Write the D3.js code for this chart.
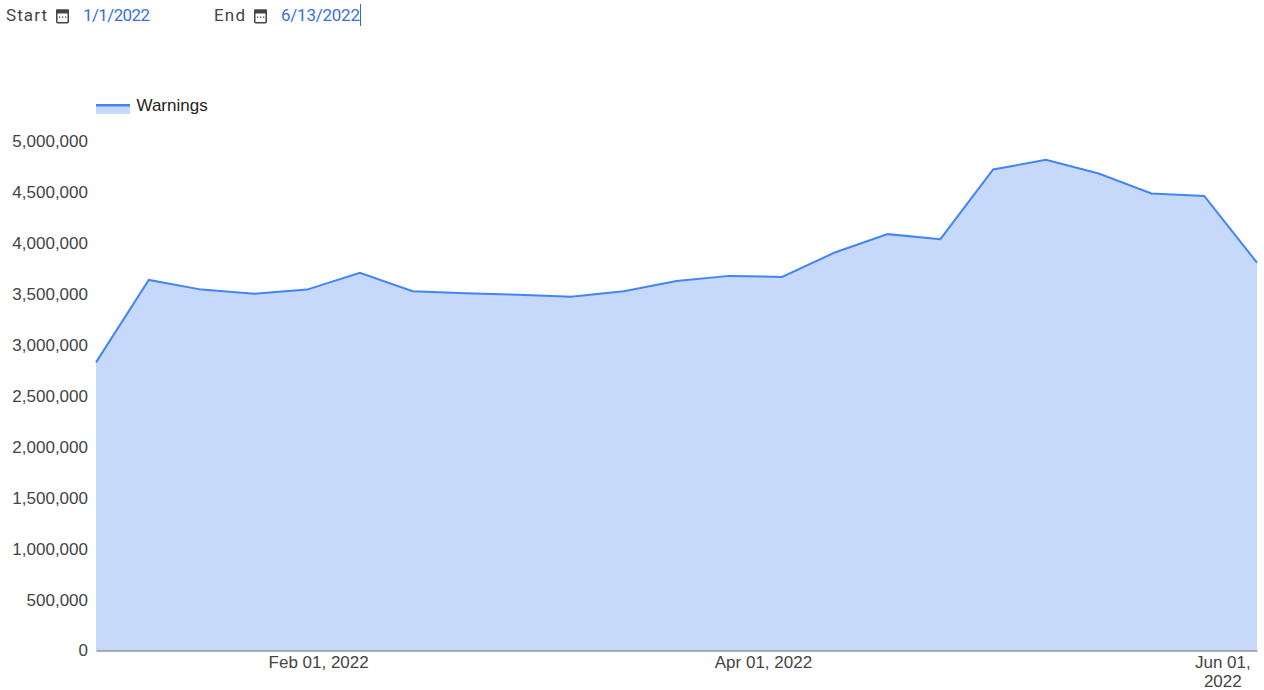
<!DOCTYPE html>
<html>
<head>
<meta charset="utf-8">
<script src="https://cdn.jsdelivr.net/npm/d3@7"></script>
<style>
html, body { margin: 0; padding: 0; background: #fff; overflow: hidden; }
svg { display: block; }
.chart-text { font-family: "Liberation Sans", Arial, sans-serif; font-size: 17px; fill: #444; }
.control-text { font-family: Roboto, "Open Sans", sans-serif; font-size: 17px; }
</style>
</head>
<body>
<div id="chart"></div>
<script>
// weekly warnings
const weeks = ["2022-01-03","2022-01-10","2022-01-17","2022-01-24","2022-01-31","2022-02-07","2022-02-14","2022-02-21",
    "2022-02-28","2022-03-07","2022-03-14","2022-03-21","2022-03-28","2022-04-04","2022-04-11","2022-04-18",
    "2022-04-25","2022-05-02","2022-05-09","2022-05-16","2022-05-23","2022-05-30","2022-06-06"];
const warnings = [2830000,3640000,3545000,3505000,3545000,3710000,3530000,3510000,
    3495000,3475000,3530000,3630000,3680000,3670000,3910000,4090000,
    4040000,4725000,4820000,4685000,4490000,4465000,3810000];
const yTicks = [0,500000,1000000,1500000,2000000,2500000,3000000,3500000,4000000,4500000,5000000];
const xTicks = ["2022-02-01","2022-04-01","2022-06-01"];
const seriesName = "Warnings";

var width = 1264, height = 690;
var margin = {top: 141.5, right: 7, bottom: 39.5, left: 96};
var parseDay = d3.timeParse("%Y-%m-%d");
var data = weeks.map(function(d, i) { return {date: parseDay(d), value: warnings[i]}; });

var x = d3.scaleTime()
    .domain(d3.extent(data, function(d) { return d.date; }))
    .range([margin.left, width - margin.right]);
var y = d3.scaleLinear()
    .domain([0, 5000000])
    .range([height - margin.bottom, margin.top]);

var svg = d3.select("#chart").append("svg")
    .attr("width", width)
    .attr("height", height);

// date controls above the chart
function drawCalendar(g) {
    g.append("rect").attr("x", 0.75).attr("y", 0.75).attr("width", 11.5).attr("height", 12.5)
        .attr("rx", 1).attr("fill", "none").attr("stroke", "#444").attr("stroke-width", 1.5);
    g.append("rect").attr("x", 0).attr("y", 0).attr("width", 13).attr("height", 4).attr("fill", "#444");
    g.selectAll(".dot").data([3, 6, 9]).enter().append("rect")
        .attr("x", function(d) { return d; }).attr("y", 7).attr("width", 1.3).attr("height", 1.3).attr("fill", "#444");
}
function drawControl(label, labelX, labelW, iconX, value, valueX, valueW) {
    svg.append("text").attr("class", "control-text").attr("x", labelX).attr("y", 21)
        .attr("textLength", labelW).attr("fill", "#444").text(label);
    drawCalendar(svg.append("g").attr("transform", "translate(" + iconX + ",9.5)"));
    svg.append("text").attr("class", "control-text").attr("x", valueX).attr("y", 21)
        .attr("textLength", valueW).attr("fill", "#3a70d8").text(value);
}
drawControl("Start", 6, 41, 56, "1/1/2022", 83, 67);
drawControl("End", 214, 31, 254, "6/13/2022", 281, 79);
svg.append("line").attr("x1", 360.5).attr("x2", 360.5).attr("y1", 4).attr("y2", 26)
    .attr("stroke", "#3367d6").attr("stroke-width", 1);

// legend
svg.append("rect").attr("x", 96).attr("y", 105).attr("width", 34).attr("height", 9)
    .attr("fill", "#c6d9fa");
svg.append("rect").attr("x", 96).attr("y", 104).attr("width", 34).attr("height", 2.5)
    .attr("fill", "#4285f4");
svg.append("text").attr("class", "chart-text").attr("x", 136.5).attr("y", 111)
    .style("fill", "#222").text(seriesName);

// area and line
var area = d3.area()
    .x(function(d) { return x(d.date); })
    .y0(y(0))
    .y1(function(d) { return y(d.value); });
var line = d3.line()
    .x(function(d) { return x(d.date); })
    .y(function(d) { return y(d.value); });

svg.append("path").datum(data).attr("d", area).attr("fill", "#c6d9fa");
svg.append("path").datum(data).attr("d", line)
    .attr("fill", "none").attr("stroke", "#4285f4").attr("stroke-width", 2);

// axes
var yAxis = d3.axisLeft(y).tickValues(yTicks).tickSize(0).tickPadding(8).tickFormat(d3.format(","));
var yG = svg.append("g").attr("transform", "translate(" + margin.left + ",0)").call(yAxis);
yG.select(".domain").remove();
yG.selectAll("text").attr("class", "chart-text");

var xAxis = d3.axisBottom(x).tickValues(xTicks.map(parseDay)).tickSize(0).tickFormat("");
var xG = svg.append("g").attr("transform", "translate(0," + y(0) + ")").call(xAxis);
xG.select(".domain").attr("stroke", "#5f6368");

// x labels, the last one wraps at the right edge
var formatTick = d3.timeFormat("%b %d, %Y");
xG.selectAll(".tick").each(function(d, i) {
    var t = d3.select(this).select("text")
        .attr("class", "chart-text").attr("text-anchor", "middle").attr("y", 17.5).attr("dy", null);
    if (i === xTicks.length - 1) {
        var parts = formatTick(d).split(" ");
        t.append("tspan").attr("x", 3).attr("dy", 0).text(parts[0] + " " + parts[1]);
        t.append("tspan").attr("x", 3).attr("dy", 19).text(parts[2]);
    } else {
        t.attr("x", 3.5).text(formatTick(d));
    }
});
</script>
</body>
</html>
